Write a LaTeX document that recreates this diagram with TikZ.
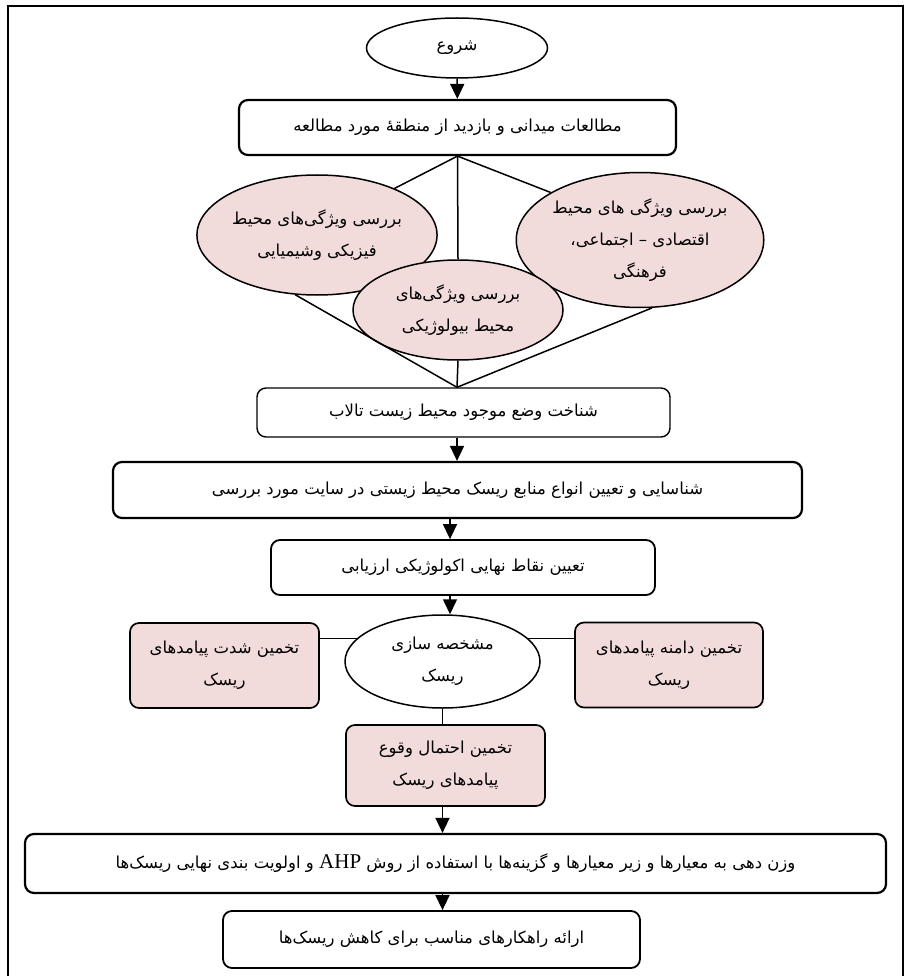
\documentclass[tikz,border=0pt]{standalone}
\usepackage{fontspec}
\newfontfamily\arabicfont[Script=Arabic]{DejaVu Sans}
\newfontfamily\latinfont{Liberation Serif}
\TeXXeTstate=1
\usepackage{xcolor}
\usepackage{tikz}
\usetikzlibrary{
	arrows.meta,shapes.geometric
}
\definecolor{pinkfill}{HTML}{F2DCDB}
\newcommand{\fa}[1]{{\arabicfont\beginR #1\endR}}
\tikzset{
	box/.style={draw, rounded corners=9pt, line width=1.4pt, inner sep=0pt, align=center},
	thickbox/.style={box, line width=2.2pt},
	pinkbox/.style={box, fill=pinkfill, line width=1.7pt},
	oval/.style={draw, ellipse, inner sep=0pt, align=center, line width=1.5pt},
	pinkoval/.style={oval, fill=pinkfill}
}
\begin{document}
\begin{tikzpicture}[x=1pt,y=-1pt,font=\fontsize{16.5}{32}\selectfont]
		\useasboundingbox (0,0) rectangle (908,976);
		\draw[line width=1.4pt] (8,976) -- (8,6) -- (903,6) -- (903,976);
		\node[oval, minimum width=181pt, minimum height=60pt] (st) at (457,48) {\fa{شروع}};
		\node[thickbox, minimum width=437pt, minimum height=55pt] (b1) at (457.5,127.5) {\fa{مطالعات میدانی و بازدید از منطقهٔ مورد مطالعه}};
		\node[pinkoval, minimum width=237pt, minimum height=120pt] (phy) at (317,235) {\fa{بررسی ویژگی‌های محیط}\\\fa{فیزیکی وشیمیایی}};
		\node[pinkoval, minimum width=246pt, minimum height=135pt] (soc) at (640,240) {\fa{بررسی ویژگی های محیط}\\\fa{اقتصادی – اجتماعی،}\\\fa{فرهنگی}};
		\node[pinkoval, minimum width=210pt, minimum height=100pt] (bio) at (458,310) {\fa{بررسی ویژگی‌های}\\\fa{محیط بیولوژیکی}};
		\node[box, minimum width=413pt, minimum height=49pt] (b2) at (463.5,412.5) {\fa{شناخت وضع موجود محیط زیست تالاب}};
		\node[thickbox, minimum width=689pt, minimum height=56pt] (b3) at (457.5,490) {\fa{شناسایی و تعیین انواع منابع ریسک محیط زیستی در سایت مورد بررسی}};
		\node[box, line width=1.8pt, minimum width=384pt, minimum height=55pt] (b4) at (463,567.5) {\fa{تعیین نقاط نهایی اکولوژیکی ارزیابی}};
		\node[oval, minimum width=195pt, minimum height=93pt] (rk) at (442.5,661.5) {\fa{مشخصه سازی}\\\fa{ریسک}};
		\node[pinkbox, minimum width=189pt, minimum height=85pt] (sev) at (224.5,665.5) {\fa{تخمین شدت پیامدهای}\\\fa{ریسک}};
		\node[pinkbox, minimum width=188pt, minimum height=85pt] (ext) at (669,665) {\fa{تخمین دامنه پیامدهای}\\\fa{ریسک}};
		\node[pinkbox, minimum width=199pt, minimum height=81pt] (prob) at (445.5,765.5) {\fa{تخمین احتمال وقوع}\\\fa{پیامدهای ریسک}};
		\node[thickbox, minimum width=861pt, minimum height=59pt] (b5) at (455.5,863.5) {\fa{وزن دهی به معیارها و زیر معیارها و گزینه‌ها با استفاده از روش {\latinfont\fontsize{21}{24}\selectfont\beginL AHP\endL} و اولویت بندی نهایی ریسک‌ها}};
		\node[box, line width=1.8pt, minimum width=417pt, minimum height=57pt] (b6) at (431.5,939.5) {\fa{ارائه راهکارهای مناسب برای کاهش ریسک‌ها}};
		%
		\path[-,line width=1.5pt]
			(b1.south) edge (phy.31)
			(b1.south) edge (bio.north)
			(b1.south) edge (soc.152)
			(phy.250) edge (b2.north -| st.south)
			(bio.south) edge (b2.north -| st.south)
			(soc.280) edge (b2.north -| st.south)
			(sev.east |- rk.165) edge (rk.165)
			(rk.15) edge (rk.15 -| ext.west)
			(rk.south) edge (prob.north -| rk.south);
		\path[->,line width=1.5pt,>={Triangle[width=14pt,length=15pt]}]
			(st) edge (b1)
			(b2.south -| st.south) edge (b3.north -| st.south)
			([xshift=-13pt]b4.north |- b3.south) edge ([xshift=-13pt]b4.north)
			([xshift=-13pt]b4.south) edge ([xshift=-13pt]b4.south |- rk.north)
			(prob.south -| rk.south) edge (b5.north -| rk.south)
			(b5.south -| rk.south) edge (b6.north -| rk.south);
	\end{tikzpicture}
\end{document}
